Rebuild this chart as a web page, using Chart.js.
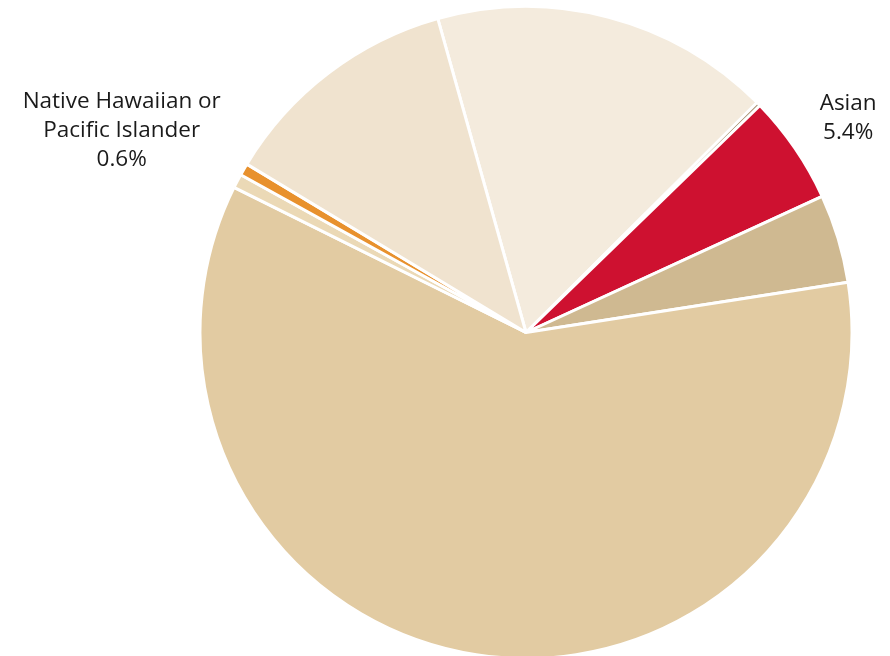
<!DOCTYPE html>
<html>
<head>
<meta charset="utf-8">
<script src="https://cdn.jsdelivr.net/npm/chart.js@4.4.1/dist/chart.umd.min.js"></script>
<style>
  html, body { margin: 0; padding: 0; background: #ffffff; overflow: hidden; }
  #wrap { position: relative; width: 890px; height: 660px; }
</style>
</head>
<body>
<div id="wrap"><canvas id="myChart"></canvas></div>
<script>
var categories = [
    'Hispanic or Latino',
    'Some Other Race',
    'Asian',
    'Two or More Races',
    'White',
    'American Indian or Alaska Native',
    'Native Hawaiian or Pacific Islander',
    'Black or African American'
];
var shares = [16.9, 0.2, 5.4, 4.4, 59.8, 0.7, 0.6, 12.0];
var colors = ['#f4ebdd', '#a89272', '#ce1130', '#cfb991', '#e2cba2', '#ebd9b6', '#e8912d', '#f0e3cf'];
// only these slices get an outside label (index -> lines)
var label_lines = {
    2: ['Asian', '5.4%'],
    6: ['Native Hawaiian or', 'Pacific Islander', '0.6%']
};

var outsideLabels = {
    id: 'outsideLabels',
    afterDraw: function (chart) {
        let ctx = chart.ctx;
        let meta = chart.getDatasetMeta(0);
        ctx.save();
        ctx.font = '22.5px "Open Sans", sans-serif';
        ctx.fillStyle = '#1a1a1a';
        ctx.textBaseline = 'alphabetic';
        ctx.textAlign = 'center';
        let lh = 29;
        Object.keys(label_lines).forEach(function (k) {
            let arc = meta.data[k];
            let lines = label_lines[k];
            let mid = (arc.startAngle + arc.endAngle) / 2;
            let r = arc.outerRadius + 30;
            let ax = arc.x + Math.cos(mid) * r;
            let ay = arc.y + Math.sin(mid) * r;
            let w = 0;
            lines.forEach(function (t) { w = Math.max(w, ctx.measureText(t).width); });
            let right_side = Math.cos(mid) >= 0;
            let cx = right_side ? ax + w / 2 : ax + 3 - w / 2;
            let base = right_side ? ay + 8 : ay + 12;
            for (let i = 0; i < lines.length; i++) {
                ctx.fillText(lines[i], cx, base - (lines.length - 1 - i) * lh);
            }
        });
        ctx.restore();
    }
};

var ctx = document.getElementById('myChart');
var chart = new Chart(ctx, {
    type: 'pie',
    data: {
        labels: categories,
        datasets: [{
            data: shares,
            backgroundColor: colors,
            borderColor: '#ffffff',
            borderWidth: 3
        }]
    },
    options: {
        responsive: true,
        maintainAspectRatio: false,
        animation: false,
        rotation: -15.7,
        layout: { padding: { top: 5, left: 162, right: 0, bottom: 0 } },
        plugins: {
            legend: { display: false },
            tooltip: { enabled: false }
        }
    },
    plugins: [outsideLabels]
});
</script>
</body>
</html>
